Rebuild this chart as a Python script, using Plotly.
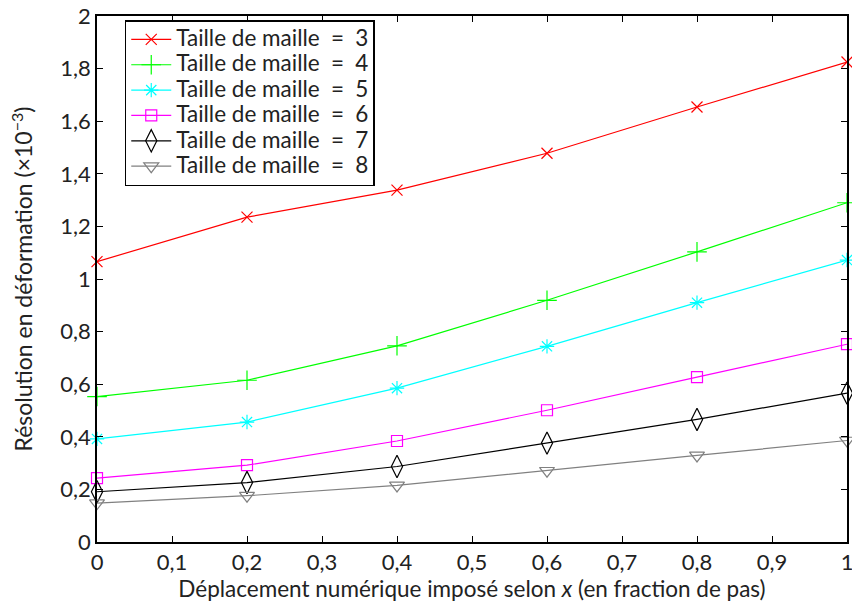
import plotly.graph_objects as go

x_vals = [0, 0.2, 0.4, 0.6, 0.8, 1.0]
taille_3 = [1.066, 1.235, 1.338, 1.478, 1.654, 1.825]
taille_4 = [0.553, 0.615, 0.746, 0.919, 1.103, 1.290]
taille_5 = [0.392, 0.456, 0.585, 0.744, 0.910, 1.072]
taille_6 = [0.243, 0.292, 0.384, 0.501, 0.627, 0.752]
taille_7 = [0.191, 0.226, 0.287, 0.376, 0.466, 0.566]
taille_8 = [0.148, 0.176, 0.215, 0.271, 0.329, 0.386]

series = [
    ("3", taille_3, "#ff0000", "x-thin-open", 11),
    ("4", taille_4, "#00ff00", "cross-thin-open", 14),
    ("5", taille_5, "#00ffff", "asterisk-open", 12),
    ("6", taille_6, "#ff00ff", "square-open", 11),
    ("7", taille_7, "#000000", "diamond-tall-open", 16),
    ("8", taille_8, "#808080", "triangle-down-open", 13),
]

FONT = "Lato"
TXT = "#222"
fig = go.Figure()
for name, ys, col, sym, sz in series:
    fig.add_trace(go.Scatter(
        x=x_vals, y=ys, mode="lines+markers",
        name='<span style="font-size:22.5px">Taille de maille\u2002=\u2002' + name + '</span>',
        line=dict(color=col, width=1.2),
        marker=dict(symbol=sym, size=sz, color=col, line=dict(color=col, width=1.2)),
        cliponaxis=False,
    ))

axis_common = dict(
    showgrid=False, zeroline=False, showline=True, linecolor="black", linewidth=1.5,
    mirror="ticks", ticks="inside", ticklen=6, tickwidth=1, tickcolor="black",
    tickfont=dict(family=FONT, size=22, color=TXT), automargin=False,
    ticklabeloverflow="allow",
)
fig.update_xaxes(range=[0, 1], dtick=0.1, tick0=0,
                 title=dict(text="Déplacement numérique imposé selon <i>x</i> (en fraction de pas)",
                            font=dict(family=FONT, size=22.5, color=TXT), standoff=4),
                 **axis_common)
fig.update_yaxes(range=[0, 2], dtick=0.2, tick0=0,
                 title=dict(text="Résolution en déformation (×10<sup>−3</sup>)",
                            font=dict(family=FONT, size=23, color=TXT), standoff=21),
                 **axis_common)

fig.update_layout(
    width=852, height=607,
    margin=dict(l=97, r=5, t=16, b=65, autoexpand=False),
    paper_bgcolor="white", plot_bgcolor="white",
    separators=", ",
    font=dict(family=FONT, size=20, color=TXT),
    legend=dict(x=0.037, y=0.992, xanchor="left", yanchor="top",
                bgcolor="white", bordercolor="black", borderwidth=1.5,
                font=dict(family=FONT, size=17.2, color=TXT),
                tracegroupgap=0, itemwidth=40),
    showlegend=True,
)
fig.write_html("out.html", config={"displayModeBar": False},
               post_script="document.body.style.margin='0';document.body.style.padding='0';")
